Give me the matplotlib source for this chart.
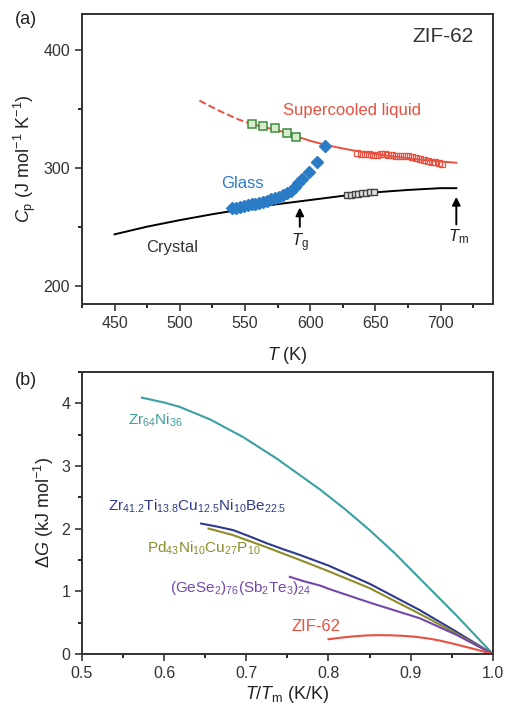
import matplotlib
matplotlib.use('Agg')
import matplotlib.pyplot as plt
from matplotlib.ticker import MultipleLocator

plt.rcParams['font.family'] = ['Liberation Sans', 'DejaVu Sans']
plt.rcParams['mathtext.fontset'] = 'custom'
plt.rcParams['mathtext.rm'] = 'Liberation Sans'
plt.rcParams['mathtext.it'] = 'Liberation Sans:italic'
plt.rcParams['mathtext.bf'] = 'Liberation Sans:bold'

# ---- panel (a) data: heat capacity of ZIF-62 ----
crystal_T = [450, 475, 500, 525, 550, 575, 600, 625, 650, 675, 700, 712]
crystal_cp = [244, 250.5, 256, 261, 265.5, 269.5, 273, 276.5, 279.5, 281.5, 283, 283]

crystal_pts_T = [628, 631, 634, 637, 640, 643, 646, 649]
crystal_pts_cp = [277.2, 277.6, 278, 278.3, 278.7, 279, 279.4, 279.8]

glass_T = [540, 543, 546, 549, 552, 555, 558, 561, 564, 567, 570, 573, 576,
           579, 582, 585, 588, 591, 594, 599, 605, 611]
glass_cp = [266, 266.5, 267, 267.8, 268.5, 269.3, 270, 270.8, 271.6, 272.5,
            273.5, 274.5, 275.8, 277, 279, 281, 284, 287, 290.5, 297, 305, 319]

liq_dash_T = [515, 530, 545, 556]
liq_dash_cp = [357, 348.5, 341, 337]
liq_T = [556, 565, 575, 590, 600, 612, 625, 640, 655, 670, 685, 700, 712]
liq_cp = [337, 334.5, 332, 326.5, 323, 319.5, 316.5, 313.5, 311, 309, 307, 305.5, 304.5]

green_T = [555, 564, 573, 582, 589]
green_cp = [337, 335.5, 333.5, 330, 326.5]

red_T = [636, 639, 642, 645, 648, 651, 654, 657, 660, 663, 666, 669, 672,
         675, 678, 681, 684, 687, 690, 693, 696, 699, 701]
red_cp = [312.5, 312, 311.5, 311.5, 311, 311, 311.5, 311.5, 311, 311, 310.5,
          310, 310, 310, 309.5, 308.5, 307.5, 307, 306, 305.5, 305, 304, 303.5]

# ---- panel (b) data: Gibbs free energy difference ----
zrni_x = [0.573, 0.6, 0.619, 0.656, 0.696, 0.737, 0.79, 0.82, 0.85, 0.88, 0.911, 0.955, 1.0]
zrni_y = [4.087, 4.01, 3.94, 3.74, 3.46, 3.116, 2.62, 2.31, 1.975, 1.615, 1.205, 0.624, 0.0]
vit_x = [0.645, 0.665, 0.684, 0.705, 0.725, 0.745, 0.765, 0.80, 0.85, 0.911, 0.955, 1.0]
vit_y = [2.08, 2.03, 1.975, 1.87, 1.765, 1.67, 1.58, 1.41, 1.12, 0.70, 0.36, 0.0]
pd_x = [0.654, 0.684, 0.725, 0.765, 0.80, 0.85, 0.911, 0.955, 1.0]
pd_y = [2.0, 1.895, 1.70, 1.50, 1.32, 1.05, 0.64, 0.33, 0.0]
gese_x = [0.753, 0.77, 0.79, 0.80, 0.85, 0.911, 0.955, 1.0]
gese_y = [1.23, 1.16, 1.09, 1.04, 0.82, 0.57, 0.31, 0.0]
zif_x = [0.80, 0.815, 0.83, 0.845, 0.86, 0.875, 0.89, 0.905, 0.92, 0.935,
         0.95, 0.965, 0.98, 1.0]
zif_y = [0.235, 0.26, 0.28, 0.295, 0.30, 0.298, 0.29, 0.275, 0.25, 0.215,
         0.17, 0.12, 0.07, 0.0]

red = '#e8503f'
blue = '#2a7cc7'
green = '#3c8c3c'
spine = '#333333'

fig = plt.figure(figsize=(5.06, 7.09), dpi=100)
ax1 = fig.add_axes([0.162, 0.571, 0.812, 0.409])
ax2 = fig.add_axes([0.162, 0.0776, 0.812, 0.398])

for ax in (ax1, ax2):
    for s in ax.spines.values():
        s.set_linewidth(1.4)
        s.set_color(spine)
    ax.tick_params(direction='out', width=1.2, length=5, labelsize=11.5,
                   colors='#333333', top=False, right=False)
    ax.tick_params(which='minor', direction='out', width=1.2, length=3,
                   top=False, right=False)

# panel (a)
ax1.plot(crystal_T, crystal_cp, color='black', lw=1.4, zorder=2)
ax1.plot(crystal_pts_T, crystal_pts_cp, 's', ms=5, mfc='#e0e0e0', mec='#444444',
         mew=1, zorder=3)
ax1.plot(liq_dash_T, liq_dash_cp, '--', color=red, lw=1.4, zorder=2)
ax1.plot(liq_T, liq_cp, '-', color=red, lw=1.4, zorder=2)
ax1.plot(green_T, green_cp, 's', ms=5.5, mfc='#d8ecd0', mec=green, mew=1.1, zorder=3)
ax1.plot(red_T, red_cp, 's', ms=5, mfc='none', mec=red, mew=0.9, zorder=3)
ax1.plot(glass_T, glass_cp, 'D', ms=6.5, color=blue, mec=blue, zorder=4)

ax1.annotate('', xy=(592, 269), xytext=(592, 248),
             arrowprops=dict(arrowstyle='-|>', color='black', lw=1.4, mutation_scale=12))
ax1.annotate('', xy=(712, 278), xytext=(712, 250),
             arrowprops=dict(arrowstyle='-|>', color='black', lw=1.4, mutation_scale=12))
ax1.text(592, 237, r'$T_{\rm g}$', ha='center', va='center', fontsize=12, color='#222222')
ax1.text(714, 242, r'$T_{\rm m}$', ha='center', va='center', fontsize=12, color='#222222')

ax1.text(579, 349, 'Supercooled liquid', color=red, fontsize=12, va='center')
ax1.text(532, 287, 'Glass', color=blue, fontsize=12, va='center')
ax1.text(474, 233, 'Crystal', color='#333333', fontsize=12, va='center')
ax1.text(725, 411, 'ZIF-62', color='#333333', fontsize=15, ha='right', va='center')

ax1.set_xlim(425, 740)
ax1.set_ylim(185, 430)
ax1.xaxis.set_major_locator(MultipleLocator(50))
ax1.xaxis.set_minor_locator(MultipleLocator(25))
ax1.yaxis.set_major_locator(MultipleLocator(100))
ax1.yaxis.set_minor_locator(MultipleLocator(50))
ax1.set_xlabel(r'$T$ (K)', fontsize=13, labelpad=10, color='#222222')
ax1.set_ylabel(r'$C_{\rm p}$ (J mol$^{-1}$ K$^{-1}$)', fontsize=13, color='#222222')
fig.text(0.03, 0.972, '(a)', fontsize=13, va='center', color='#222222')

# panel (b)
ax2.plot(zrni_x, zrni_y, color='#3aa0a0', lw=1.5)
ax2.plot(vit_x, vit_y, color='#2e3a8c', lw=1.5)
ax2.plot(pd_x, pd_y, color='#8c8c2a', lw=1.5)
ax2.plot(gese_x, gese_y, color='#7447ad', lw=1.5)
ax2.plot(zif_x, zif_y, color=red, lw=1.5)

ax2.text(0.556, 3.73, r'Zr$_{64}$Ni$_{36}$', color='#3aa0a0', fontsize=11, va='center')
ax2.text(0.532, 2.35, r'Zr$_{41.2}$Ti$_{13.8}$Cu$_{12.5}$Ni$_{10}$Be$_{22.5}$',
         color='#2e3a8c', fontsize=11, va='center')
ax2.text(0.579, 1.68, r'Pd$_{43}$Ni$_{10}$Cu$_{27}$P$_{10}$', color='#8c8c2a',
         fontsize=11, va='center')
ax2.text(0.607, 1.05, r'(GeSe$_2$)$_{76}$(Sb$_2$Te$_3$)$_{24}$', color='#7447ad',
         fontsize=11, va='center')
ax2.text(0.755, 0.44, 'ZIF-62', color=red, fontsize=12, va='center')

ax2.set_xlim(0.5, 1.0)
ax2.set_ylim(0, 4.5)
ax2.xaxis.set_major_locator(MultipleLocator(0.1))
ax2.xaxis.set_minor_locator(MultipleLocator(0.05))
ax2.yaxis.set_major_locator(MultipleLocator(1))
ax2.yaxis.set_minor_locator(MultipleLocator(0.5))
ax2.xaxis.set_major_formatter(plt.FuncFormatter(lambda v, p: f'{v:.1f}'))
ax2.set_xlabel(r'$T$/$T_{\rm m}$ (K/K)', fontsize=13, labelpad=2, color='#222222')
ax2.set_ylabel(r'$\Delta G$ (kJ mol$^{-1}$)', fontsize=13, color='#222222')
fig.text(0.03, 0.464, '(b)', fontsize=13, va='center', color='#222222')

fig.savefig('out.png', dpi=100)
